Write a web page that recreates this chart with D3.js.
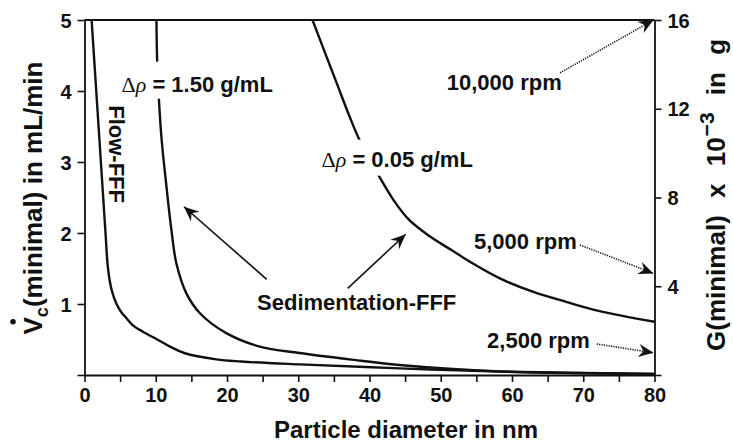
<!DOCTYPE html>
<html>
<head>
<meta charset="utf-8">
<script src="https://cdn.jsdelivr.net/npm/d3@7"></script>
<style>
  html, body { margin: 0; padding: 0; background: #fff; }
  svg { display: block; }
  text { font-family: "Liberation Sans", Arial, Helvetica, sans-serif; font-weight: bold; fill: #111; }
</style>
</head>
<body>
<svg id="chart" width="733" height="443"></svg>
<script>
// Particle diameter (nm) and minimal cross flow / field values
const flowD  = [1.0, 1.65, 2.3, 2.65, 2.95, 3.3, 3.8, 4.5, 5.2, 5.9, 6.8, 8.2, 10.2, 12.0, 14.0, 18.5, 22.0, 30.2, 44.2, 58.3, 80];
const flowV  = [5.0, 4.0, 3.0, 2.46, 2.0, 1.5, 1.2, 1.0, 0.88, 0.8, 0.7, 0.61, 0.5, 0.4, 0.31, 0.22, 0.19, 0.15, 0.094, 0.05, 0.015];

const sed150D = [10.1, 10.2, 10.45, 10.83, 11.4, 12.2, 12.9, 14.3, 16.2, 19.9, 24.6, 30.2, 37.2, 44.2, 58.3, 80];
const sed150V = [5.0, 4.41, 3.87, 3.31, 2.75, 2.04, 1.57, 1.15, 0.87, 0.59, 0.40, 0.31, 0.22, 0.14, 0.05, 0.015];

const sed005D = [32.0, 33.6, 35.4, 37.2, 38.6, 41.4, 43.4, 45.6, 48.5, 51.5, 54.0, 58.3, 63.0, 67.6, 72.3, 80];
const sed005V = [5.0, 4.58, 4.11, 3.64, 3.31, 2.79, 2.46, 2.18, 1.95, 1.76, 1.60, 1.36, 1.17, 1.03, 0.90, 0.75];

const xTicks = [0, 5, 10, 15, 20, 25, 30, 35, 40, 45, 50, 55, 60, 65, 70, 75, 80];
const yTicks = [0, 1, 2, 3, 4, 5];
const gTicks = [0, 4, 8, 12, 16];

const svg = d3.select("#chart");
const plotLeft = 84.5, plotRight = 654.5, plotTop = 20, plotBottom = 375;

const x = d3.scaleLinear().domain([0, 80]).range([plotLeft, plotRight]);
const y = d3.scaleLinear().domain([0, 5]).range([plotBottom, plotTop]);
const g = d3.scaleLinear().domain([0, 16]).range([plotBottom, plotTop]);

// arrowheads
const defs = svg.append("defs");
defs.append("marker")
  .attr("id", "head")
  .attr("markerUnits", "userSpaceOnUse")
  .attr("viewBox", "-16 -7 17 14")
  .attr("markerWidth", 17).attr("markerHeight", 14)
  .attr("refX", 0).attr("refY", 0)
  .attr("orient", "auto")
  .append("path")
  .attr("d", "M0,0 L-15,-6.5 L-10,0 L-15,6.5 Z")
  .attr("fill", "#111");

// axes
const tickFont = sel => sel.selectAll("text")
  .style("font-size", "20px").style("font-weight", "bold")
  .style("font-family", "'Liberation Sans', Arial, sans-serif").attr("fill", "#111");

const xAxis = svg.append("g").attr("transform", `translate(0,${plotBottom})`)
  .call(d3.axisBottom(x).tickValues(xTicks).tickFormat(d => d % 10 === 0 ? d : "")
    .tickSize(7).tickSizeOuter(0).tickPadding(6));
xAxis.call(tickFont);

const yAxis = svg.append("g").attr("transform", `translate(${plotLeft},0)`)
  .call(d3.axisLeft(y).tickValues(yTicks).tickFormat(d => d === 0 ? "" : d)
    .tickSize(7).tickSizeOuter(0).tickPadding(6));
yAxis.call(tickFont);
yAxis.selectAll("text").attr("dy", "0.36em");

const gAxis = svg.append("g").attr("transform", `translate(${plotRight},0)`)
  .call(d3.axisRight(g).tickValues(gTicks).tickFormat(d => d === 0 ? "" : d)
    .tickSize(7).tickSizeOuter(0).tickPadding(6));
gAxis.call(tickFont);
gAxis.selectAll("text").attr("dy", "0.36em");

svg.selectAll(".domain").attr("stroke", "#111").attr("stroke-width", 1.8);
svg.selectAll(".tick line").attr("stroke", "#111").attr("stroke-width", 1.6);

// top frame line
svg.append("line")
  .attr("x1", x(0)).attr("x2", x(80)).attr("y1", y(5)).attr("y2", y(5))
  .attr("stroke", "#111").attr("stroke-width", 1.8);

// curves
const series = [
  d3.zip(flowD, flowV),
  d3.zip(sed150D, sed150V),
  d3.zip(sed005D, sed005V)
];
const curveLine = d3.line().x(p => x(p[0])).y(p => y(p[1])).curve(d3.curveCatmullRom.alpha(0.5));
svg.append("g").selectAll("path.curve").data(series).join("path")
  .attr("class", "curve")
  .attr("d", d => curveLine(d))
  .attr("fill", "none").attr("stroke", "#111").attr("stroke-width", 2.4)
  .attr("stroke-linejoin", "round");

// density labels, with a white backing that opens a gap in the curve
function densityLabel(dx, vy, value, padTop, padBottom) {
  const grp = svg.append("g");
  const t = grp.append("text").attr("x", x(dx)).attr("y", y(vy)).style("font-size", "22px");
  t.append("tspan").text("Δ").style("font-family", "'Liberation Serif', 'Times New Roman', serif").style("font-weight", "normal");
  t.append("tspan").text("ρ").style("font-family", "'Liberation Serif', 'Times New Roman', serif").style("font-weight", "normal").style("font-style", "italic");
  t.append("tspan").text(" = " + value + " g/mL");
  const b = t.node().getBBox();
  grp.insert("rect", "text")
    .attr("x", b.x - 2).attr("y", b.y - padTop)
    .attr("width", b.width + 4).attr("height", b.height + padTop + padBottom)
    .attr("fill", "#fff");
}
densityLabel(5.2, 3.99, "1.50", 10, 2);
densityLabel(33.27, 2.934, "0.05", 7, 4);

// Flow-FFF vertical label
svg.append("text")
  .attr("transform", `translate(${x(3.5)},${y(3.8)}) rotate(90)`)
  .style("font-size", "22px")
  .text("Flow-FFF");

// Sedimentation-FFF label with its two arrows
svg.append("text")
  .attr("x", x(38.2)).attr("y", y(0.915))
  .attr("text-anchor", "middle")
  .style("font-size", "22px")
  .text("Sedimentation-FFF");

const solidArrows = [
  { from: [25.57, 1.348], to: [13.96, 2.370] },
  { from: [36.94, 1.221], to: [45.08, 1.982] }
];
svg.selectAll("line.pointer").data(solidArrows).join("line")
  .attr("class", "pointer")
  .attr("x1", d => x(d.from[0])).attr("y1", d => y(d.from[1]))
  .attr("x2", d => x(d.to[0])).attr("y2", d => y(d.to[1]))
  .attr("stroke", "#111").attr("stroke-width", 1.6)
  .attr("marker-end", "url(#head)");

// rotor speed labels pointing to the field axis
const speeds = [
  { label: "10,000 rpm", tx: 50.84, ty: 4.014, from: [66.74, 13.62], to: 16.0 },
  { label: "5,000 rpm",  tx: 54.67, ty: 1.77,  from: [69.54, 5.86],  to: 4.58 },
  { label: "2,500 rpm",  tx: 56.5,  ty: 0.376, from: [71.89, 1.40],  to: 1.0 }
];
svg.selectAll("text.speed").data(speeds).join("text")
  .attr("class", "speed")
  .attr("x", d => x(d.tx)).attr("y", d => y(d.ty))
  .style("font-size", "22px")
  .text(d => d.label);
svg.selectAll("line.speed").data(speeds).join("line")
  .attr("class", "speed")
  .attr("x1", d => x(d.from[0])).attr("y1", d => g(d.from[1]))
  .attr("x2", x(80) - 1).attr("y2", d => g(d.to))
  .attr("stroke", "#111").attr("stroke-width", 1.6)
  .attr("stroke-dasharray", "1.2,1.2")
  .attr("marker-end", "url(#head)");

// axis titles
svg.append("text")
  .attr("x", 406).attr("y", 438)
  .attr("text-anchor", "middle")
  .style("font-size", "24px")
  .text("Particle diameter in nm");

const lt = svg.append("g").attr("transform", "translate(42,198) rotate(-90)");
const ltText = lt.append("text").attr("text-anchor", "middle").style("font-size", "26px");
ltText.append("tspan").text("V");
ltText.append("tspan").text("c").style("font-size", "18px").attr("dy", 6);
ltText.append("tspan").text("(minimal) in mL/min").attr("dy", -6);
// dot over the V
{
  const ext = ltText.node().getExtentOfChar(0);
  lt.append("circle")
    .attr("cx", ext.x + ext.width / 2 + 4)
    .attr("cy", -29)
    .attr("r", 2.8)
    .attr("fill", "#111");
}

const rt = svg.append("g").attr("transform", "translate(725,351) rotate(-90)");
const rtText = rt.append("text").attr("text-anchor", "start").style("font-size", "26px")
  .style("word-spacing", "10px");
rtText.append("tspan").text("G(minimal) x 10");
rtText.append("tspan").text("−3").style("font-size", "21px").attr("dy", -11).attr("dx", 1);
rtText.append("tspan").text(" in g").attr("dy", 11);
</script>
</body>
</html>
